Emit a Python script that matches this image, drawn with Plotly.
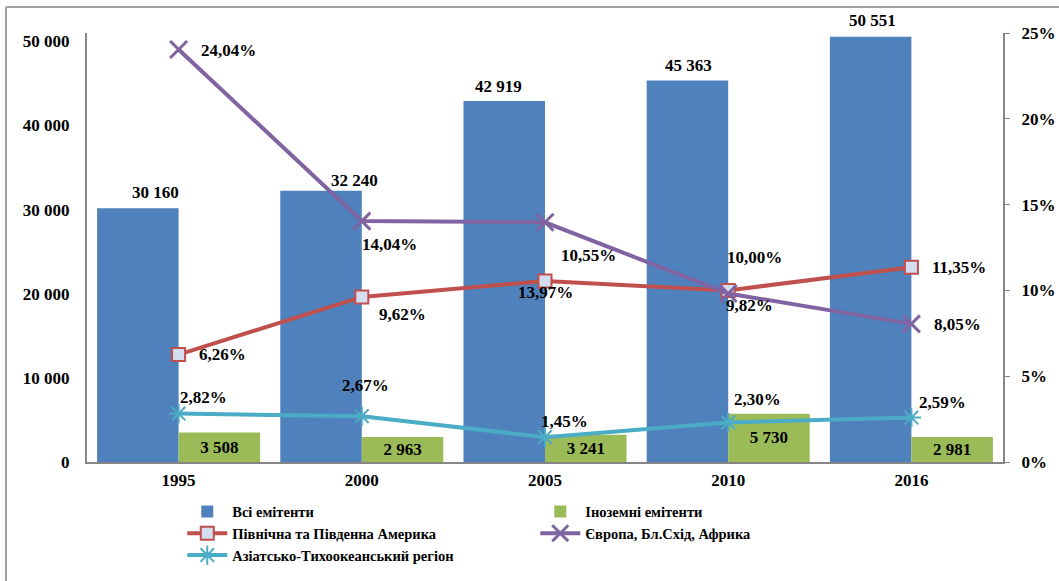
import plotly.graph_objects as go

# ---- data ----
years = ["1995", "2000", "2005", "2010", "2016"]
all_issuers = [30160, 32240, 42919, 45363, 50551]
foreign_issuers = [3508, 2963, 3241, 5730, 2981]
americas = [6.26, 9.62, 10.55, 10.00, 11.35]
europe = [24.04, 14.04, 13.97, 9.82, 8.05]
asia = [2.82, 2.67, 1.45, 2.30, 2.59]

names = ["Всі емітенти", "Іноземні емітенти", "Північна та Південна Америка",
         "Європа, Бл.Схід, Африка", "Азіатсько-Тихоокеанський регіон"]

# ---- label offsets (pixels: dx right, dy up) ----
am_off = [(44, 0), (41, -18), (43, 25), (26, 33), (48, 0)]
eu_off = [(50, -1), (28, -23), (0, -70), (21, -12), (46, -1)]
as_off = [(25, 16), (4, 31), (19, 16), (29, 23), (31, 15)]
bar_off = [(18, 4), (33, -1), (-6, 3), (1, 3), (2, 5)]

FONT = "Liberation Serif"
BLUE, GREEN, RED, PURPLE, CYAN = "#4F81BD", "#9BBB59", "#C0504D", "#8064A2", "#4BACC6"
BAR_SHIFT = -0.2225  # centre of the left bar of each group, in category units


def thousands(v):
    return f"{v:,}".replace(",", " ")


def pct(v):
    return f"{v:.2f}%".replace(".", ",")


fig = go.Figure()
fig.add_trace(go.Bar(
    x=years, y=all_issuers, name=names[0], marker=dict(color=BLUE, line=dict(width=0)),
    yaxis="y",
))
fig.add_trace(go.Bar(
    x=years, y=foreign_issuers, name=names[1], marker=dict(color=GREEN, line=dict(width=0)),
    text=[thousands(v) for v in foreign_issuers], textposition="inside", insidetextanchor="middle",
    textfont=dict(family=FONT, size=17, color="black", weight="bold"),
    constraintext="none", yaxis="y",
))
fig.add_trace(go.Scatter(
    x=years, y=americas, name=names[2], mode="lines+markers", yaxis="y2",
    line=dict(color=RED, width=4),
    marker=dict(symbol="square", size=13, color="#D3DEF1", line=dict(color=RED, width=2)),
    cliponaxis=False,
))
fig.add_trace(go.Scatter(
    x=years, y=europe, name=names[3], mode="lines+markers", yaxis="y2",
    line=dict(color=PURPLE, width=4),
    marker=dict(symbol="x-thin-open", size=17, color=PURPLE, line=dict(color=PURPLE, width=3)),
    cliponaxis=False,
))
fig.add_trace(go.Scatter(
    x=years, y=asia, name=names[4], mode="lines+markers", yaxis="y2",
    line=dict(color=CYAN, width=4),
    marker=dict(symbol="asterisk-open", size=16, color=CYAN, line=dict(color=CYAN, width=2)),
    cliponaxis=False,
))

label_font = dict(family=FONT, size=17, color="black", weight="bold")
annotations = []
for i, (v, (dx, dy)) in enumerate(zip(all_issuers, bar_off)):
    annotations.append(dict(
        x=i + BAR_SHIFT, y=v, xref="x", yref="y", text=thousands(v), showarrow=False,
        xshift=dx, yshift=dy, xanchor="center", yanchor="bottom", font=label_font,
    ))
for series, offs in ((americas, am_off), (europe, eu_off), (asia, as_off)):
    for i, (v, (dx, dy)) in enumerate(zip(series, offs)):
        annotations.append(dict(
            x=i, y=v, xref="x", yref="y2", text=pct(v), showarrow=False,
            xshift=dx, yshift=dy, xanchor="center", yanchor="middle", font=label_font,
        ))

axis_font = dict(family=FONT, size=17, color="black", weight="bold")

fig.update_layout(
    template="none",
    width=1059, height=581,
    margin=dict(l=87, r=56, t=33, b=119, autoexpand=False),
    paper_bgcolor="white", plot_bgcolor="white",
    separators=", ",
    barmode="group", bargap=0.11, bargroupgap=0,
    font=dict(family=FONT, color="black"),
    xaxis=dict(
        type="category", range=[-0.5, len(years) - 0.5], autorange=False, automargin=False,
        showgrid=False, ticks="", showline=True, zeroline=False,
        linecolor="#868686", linewidth=2, tickfont=axis_font, ticklabelstandoff=2,
    ),
    yaxis=dict(
        range=[0, 51000], autorange=False, automargin=False, tickvals=[0, 10000, 20000, 30000, 40000, 50000],
        tickformat=",d", showgrid=False, zeroline=False,
        showline=True, linecolor="#868686", linewidth=2, ticks="",
        tickfont=axis_font, ticklabelstandoff=12,
    ),
    yaxis2=dict(
        range=[0, 25], autorange=False, automargin=False, dtick=5, ticksuffix="%",
        overlaying="y", side="right",
        showgrid=False, zeroline=False, showline=True, linecolor="#868686", linewidth=2,
        ticks="outside", ticklen=5, tickcolor="#868686", tickfont=axis_font,
        ticklabelstandoff=8,
    ),
    legend=dict(
        orientation="h", x=0.104, xanchor="left", y=-0.078, yanchor="top",
        entrywidth=298, entrywidthmode="pixels", traceorder="normal",
        font=dict(family=FONT, size=14.5, color="black", weight="bold"),
        bgcolor="rgba(0,0,0,0)", itemwidth=40, tracegroupgap=0, borderwidth=0,
    ),
    annotations=annotations,
    shapes=[
        dict(type="line", xref="paper", yref="paper", x0=-0.0884, x1=1.07, y0=1.0606, y1=1.0606,
             line=dict(color="#A0A0A0", width=2)),
        dict(type="line", xref="paper", yref="paper", x0=-0.0884, x1=-0.0884, y0=1.0606, y1=-0.3,
             line=dict(color="#A0A0A0", width=2)),
    ],
    showlegend=True,
)

fig.write_html(
    "out.html",
    config={"displayModeBar": False},
    post_script="document.body.style.margin='0';document.body.style.padding='0';",
)
